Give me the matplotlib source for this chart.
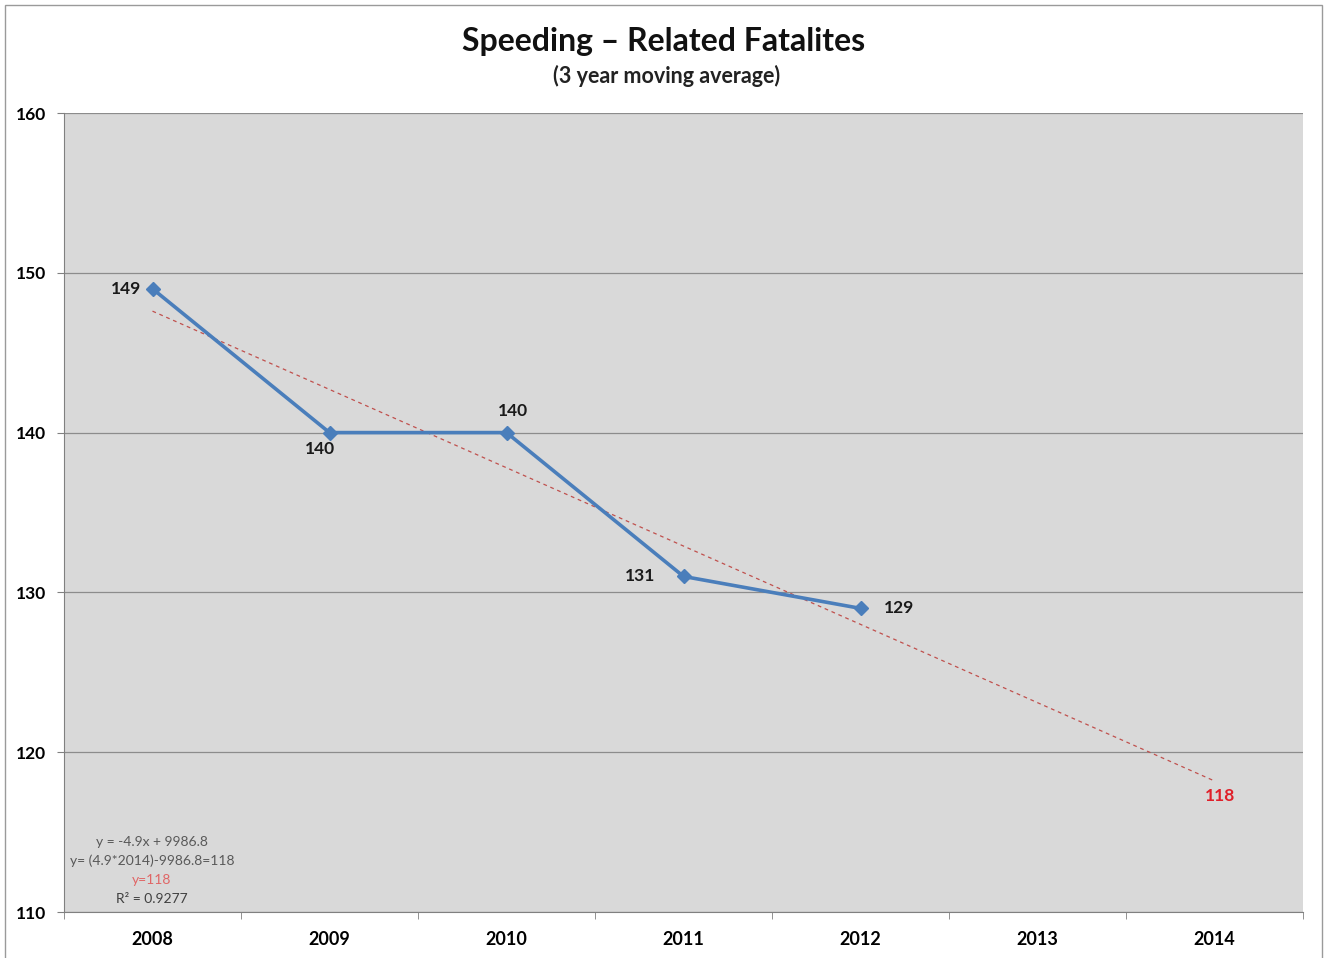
import matplotlib
matplotlib.use("Agg")
import matplotlib.pyplot as plt
from matplotlib.patches import Rectangle
import numpy as np

plt.rcParams['font.family'] = ['Lato', 'DejaVu Sans']

years = [2008, 2009, 2010, 2011, 2012, 2013, 2014]
observed_years = [2008, 2009, 2010, 2011, 2012]
fatalities = [149, 140, 140, 131, 129]
y_ticks = [110, 120, 130, 140, 150, 160]
title = "Speeding \u2013 Related Fatalites"
subtitle = "(3 year moving average)"

# linear trend fitted on the observed points, projected to the last year
slope, intercept = np.polyfit(observed_years, fatalities, 1)
trend_years = [2008, 2014]
trend_vals = [slope * y + intercept for y in trend_years]
projection = round(trend_vals[-1])

fig = plt.figure(figsize=(13.27, 9.58), dpi=100)
fig.patch.set_facecolor('white')
fig.patches.append(Rectangle((5 / 1327, -0.01), 1317 / 1327, 1 - 5 / 958 + 0.01,
                             transform=fig.transFigure, fill=False,
                             edgecolor='#9a9a9a', linewidth=1.0))

ax = fig.add_axes([64 / 1327, 1 - 912 / 958, (1303 - 64) / 1327, (912 - 113) / 958])
ax.set_facecolor('#d9d9d9')

idx = {y: i for i, y in enumerate(years)}
xo = [idx[y] for y in observed_years]
xt = [idx[y] for y in trend_years]

ax.plot(xt, trend_vals, linestyle=(0, (3, 3)), color='#c0504d', linewidth=0.9, zorder=2)
ax.plot(xo, fatalities, color='#4a7ebb', linewidth=2.6, marker='D', markersize=7,
        markerfacecolor='#4a7ebb', markeredgecolor='#4a7ebb', zorder=3)

ax.set_xlim(-0.5, len(years) - 0.5)
ax.set_ylim(y_ticks[0], y_ticks[-1])
ax.set_yticks(y_ticks)
ax.set_yticklabels([str(v) for v in y_ticks], fontsize=12.5, fontweight='bold')
ax.set_xticks(range(len(years)))
ax.set_xticklabels([str(y) for y in years], fontsize=13, fontweight='bold')
ax.set_xticks(np.arange(-0.5, len(years)), minor=True)
ax.tick_params(axis='x', which='major', length=0, pad=14)
ax.tick_params(axis='x', which='minor', length=5, color='#808080', direction='out')
ax.tick_params(axis='y', length=5, color='#808080', direction='out', pad=8)

ax.grid(axis='y', color='#8c8c8c', linewidth=0.9)
ax.set_axisbelow(True)
for s in ['top', 'right']:
    ax.spines[s].set_visible(False)
for s in ['left', 'bottom']:
    ax.spines[s].set_color('#808080')

# point labels
offsets = [(-8, 0, 'right', 'center'), (-7, -6, 'center', 'top'),
           (5, 10, 'center', 'bottom'), (-20, 0, 'right', 'center'),
           (17, 0, 'left', 'center')]
for x, v, (dx, dy, ha, va) in zip(xo, fatalities, offsets):
    ax.annotate(str(v), (x, v), xytext=(dx, dy), textcoords='offset points',
                ha=ha, va=va, fontsize=12.5, fontweight='bold', color='#1a1a1a')

ax.annotate(str(projection), (xt[-1], trend_vals[-1]), xytext=(4, -5),
            textcoords='offset points', ha='center', va='top', fontsize=12.5,
            fontweight='bold', color='#e0202a')

# trend equation block
eq_lines = [
    (f"y = {slope:.1f}x + {intercept:.1f}", '#595959'),
    (f"y= ({-slope:.1f}*{trend_years[-1]})-{intercept:.1f}={projection}", '#595959'),
    (f"y={projection}", '#e06666'),
    ("R\u00b2 = 0.9277", '#404040'),
]
for i, (txt, col) in enumerate(eq_lines):
    fig.text(152 / 1327, 1 - (842 + i * 19) / 958, txt, ha='center', va='center',
             fontsize=10, color=col)

fig.text(664 / 1327, 1 - 42 / 958, title, ha='center', va='center',
         fontsize=23, fontweight='bold', color='#111111')
fig.text(667 / 1327, 1 - 76 / 958, subtitle, ha='center', va='center',
         fontsize=15.5, fontweight='bold', color='#222222')

fig.savefig('out.png', dpi=100, facecolor='white')
